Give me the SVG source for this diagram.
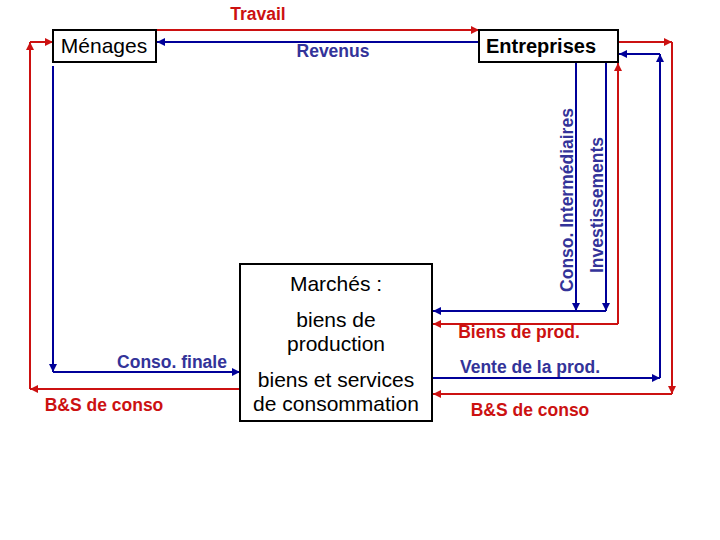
<svg xmlns="http://www.w3.org/2000/svg" width="720" height="540" viewBox="0 0 720 540">
<style>
.box{fill:#fff;stroke:#000;stroke-width:2}
.r{stroke:#cc1111;stroke-width:2;fill:none}
.b{stroke:#000099;stroke-width:2;fill:none}
.rm{marker-end:url(#ar)}
.bm{marker-end:url(#ab)}
.lbl{font-family:"Liberation Sans",Arial,sans-serif;font-weight:bold;font-size:17.5px}
.rt{fill:#cc1111}
.bt{fill:#333399}
.nt{font-family:"Liberation Sans",Arial,sans-serif;fill:#000}
.mt{font-size:21px;text-anchor:middle}
</style>
<defs>
<marker id="ar" viewBox="0 0 10 10" refX="10" refY="5" markerWidth="4" markerHeight="4" orient="auto" markerUnits="strokeWidth"><path d="M0,0L10,5L0,10z" fill="#cc1111"/></marker>
<marker id="ab" viewBox="0 0 10 10" refX="10" refY="5" markerWidth="4" markerHeight="4" orient="auto" markerUnits="strokeWidth"><path d="M0,0L10,5L0,10z" fill="#000099"/></marker>
</defs>
<rect width="720" height="540" fill="#fff"/>
<g id="connectors">
<line class="r rm" x1="156" y1="30" x2="479" y2="30"/>
<line class="b bm" x1="479" y1="42" x2="157" y2="42"/>
<line class="r rm" x1="240" y1="389" x2="30" y2="389"/>
<line class="r rm" x1="30" y1="389" x2="30" y2="42"/>
<line class="r rm" x1="30" y1="42" x2="53" y2="42"/>
<line class="b bm" x1="53" y1="66" x2="53" y2="372"/>
<line class="b bm" x1="53" y1="372" x2="240" y2="372"/>
<line class="b bm" x1="576" y1="63" x2="576" y2="311"/>
<line class="b bm" x1="606" y1="63" x2="606" y2="311"/>
<line class="b bm" x1="606" y1="311" x2="433" y2="311"/>
<line class="r rm" x1="618" y1="324" x2="433" y2="324"/>
<line class="r rm" x1="618" y1="324" x2="618" y2="63"/>
<line class="b bm" x1="433" y1="378" x2="660" y2="378"/>
<line class="b bm" x1="660" y1="378" x2="660" y2="54"/>
<line class="b bm" x1="660" y1="54" x2="619" y2="54"/>
<line class="r rm" x1="619" y1="42" x2="672" y2="42"/>
<line class="r rm" x1="672" y1="42" x2="672" y2="394"/>
<line class="r rm" x1="672" y1="394" x2="433" y2="394"/>
</g>
<g id="menages">
<rect class="box" x="53" y="30" width="103" height="32"/>
<text class="nt" x="104" y="53" font-size="21" text-anchor="middle">Ménages</text>
</g>
<g id="entreprises">
<rect class="box" x="479" y="30" width="139" height="32"/>
<text class="nt" x="541" y="53" font-size="20" font-weight="bold" text-anchor="middle">Entreprises</text>
</g>
<g id="marches">
<rect class="box" x="240" y="264" width="192" height="157"/>
<text class="nt mt" x="336" y="291">Marchés :</text>
<text class="nt mt" x="336" y="327">biens de</text>
<text class="nt mt" x="336" y="351">production</text>
<text class="nt mt" x="336" y="387">biens et services</text>
<text class="nt mt" x="336" y="411">de consommation</text>
</g>
<g id="labels">
<text class="lbl rt" x="258" y="20" text-anchor="middle">Travail</text>
<text class="lbl bt" x="333" y="57" text-anchor="middle">Revenus</text>
<text class="lbl bt" x="172" y="368" text-anchor="middle">Conso. finale</text>
<text class="lbl rt" x="104" y="411" text-anchor="middle">B&amp;S de conso</text>
<text class="lbl rt" x="519" y="338" text-anchor="middle">Biens de prod.</text>
<text class="lbl bt" x="530" y="373" text-anchor="middle">Vente de la prod.</text>
<text class="lbl rt" x="530" y="416" text-anchor="middle">B&amp;S de conso</text>
<text class="lbl bt" transform="translate(573,200) rotate(-90)" text-anchor="middle">Conso. Intermédiaires</text>
<text class="lbl bt" transform="translate(603,205) rotate(-90)" text-anchor="middle">Investissements</text>
</g>
</svg>
